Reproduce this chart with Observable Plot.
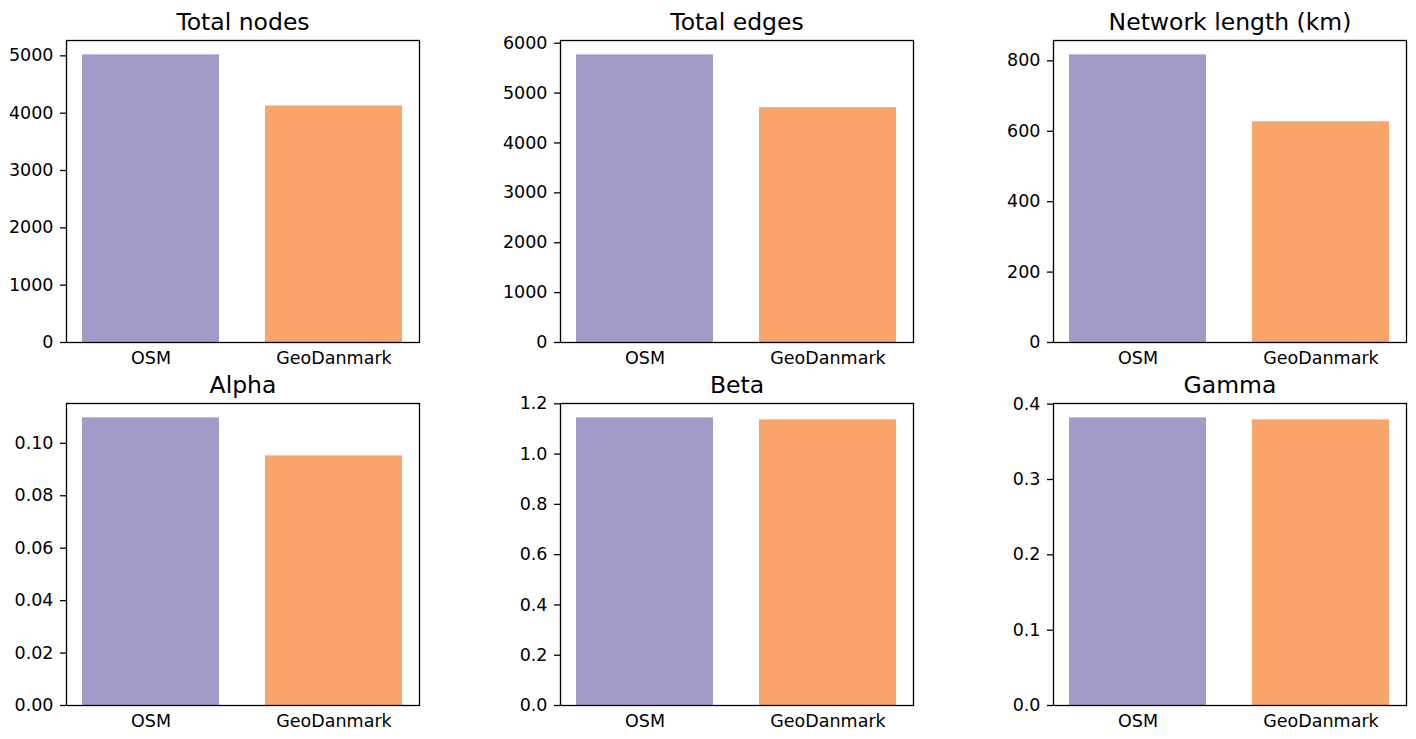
<!DOCTYPE html>
<html>
<head>
<meta charset="utf-8">
<script src="https://cdn.jsdelivr.net/npm/d3@7"></script>
<script src="https://cdn.jsdelivr.net/npm/@observablehq/plot@0.6"></script>
<style>
  html, body { margin: 0; padding: 0; background: white; }
  #root { position: relative; width: 1416px; height: 739px; overflow: hidden; background: white; }
  #root > div { position: absolute; }
  svg { overflow: visible; }
</style>
</head>
<body>
<div id="root"></div>
<script>
// ---- data ----
const sources = ["OSM", "GeoDanmark"];
const colors = ["#a29ac9", "#f8a46a"];
const titles = ["Total nodes", "Total edges", "Network length (km)", "Alpha", "Beta", "Gamma"];
const osmValues = [5017, 5766, 817, 0.1097, 1.144, 0.3818];
const geoValues = [4126, 4708, 627, 0.0952, 1.136, 0.3791];
const tickValues = [
  [0, 1000, 2000, 3000, 4000, 5000],
  [0, 1000, 2000, 3000, 4000, 5000, 6000],
  [0, 200, 400, 600, 800],
  [0, 0.02, 0.04, 0.06, 0.08, 0.10],
  [0, 0.2, 0.4, 0.6, 0.8, 1.0, 1.2],
  [0, 0.1, 0.2, 0.3, 0.4]
];
const tickFormats = ["d", "d", "d", ".2f", ".1f", ".1f"];

// ---- layout ----
const frameLefts = [66, 560, 1053];
const frameTops = [40, 403];
const fw = 353, fh = 302;
const mL = 66, mT = 40, mR = 10, mB = 30;

const root = document.getElementById("root");
titles.forEach((title, i) => {
  const col = i % 3, row = Math.floor(i / 3);
  const data = sources.map((s, j) => ({source: s, value: j === 0 ? osmValues[i] : geoValues[i]}));
  const maxV = d3.max(data, d => d.value);
  const chart = Plot.plot({
    width: mL + fw + mR,
    height: mT + fh + mB,
    marginLeft: mL, marginTop: mT, marginRight: mR, marginBottom: mB,
    x: {domain: sources, paddingInner: 0.25, paddingOuter: 0.0875, label: null},
    y: {domain: [0, maxV * 1.05], label: null},
    color: {domain: sources, range: colors},
    style: {fontFamily: "'DejaVu Sans', sans-serif", fontSize: "17.5px", color: "black", background: "transparent", overflow: "visible"},
    marks: [
      Plot.barY(data, {x: "source", y: "value", fill: "source"}),
      Plot.frame({stroke: "black", strokeWidth: 1.3}),
      Plot.axisY({ticks: tickValues[i], tickFormat: d3.format(tickFormats[i]), tickSize: 6, tickPadding: 7, fontSize: 17.5, strokeWidth: 1.3, label: null}),
      Plot.axisX({tickSize: 0, tickPadding: 9, fontSize: 17.5, label: null}),
      Plot.text([title], {frameAnchor: "top", lineAnchor: "middle", dy: -18, fontSize: 23.5, text: d => d, fill: "black"})
    ]
  });
  const wrap = document.createElement("div");
  wrap.style.left = (frameLefts[col] - mL) + "px";
  wrap.style.top = (frameTops[row] - mT) + "px";
  wrap.appendChild(chart);
  root.appendChild(wrap);
});
</script>
</body>
</html>
